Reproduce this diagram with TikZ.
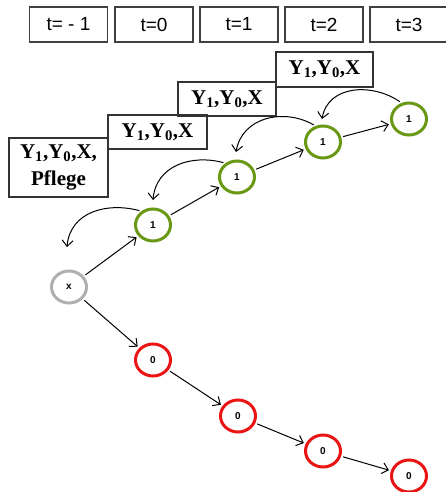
\documentclass[tikz,border=0pt]{standalone}
\usepackage{fontspec}
\setmainfont{Liberation Serif}
\setsansfont{Liberation Sans}
\usepackage{tikz}
\usetikzlibrary{shapes}
\usetikzlibrary{arrows.meta}
\definecolor{okgreen}{RGB}{104,152,20}
\definecolor{nored}{RGB}{235,20,20}
\definecolor{startgray}{RGB}{175,175,175}
\tikzset{
  main node/.style={ellipse,draw,line width=3pt,minimum width=35pt,minimum height=32pt,inner sep=0pt,font=\sffamily\bfseries\fontsize{10}{10}\selectfont},
  time node/.style={rectangle,draw=black!75,line width=1.2pt,minimum width=78pt,minimum height=35pt,inner sep=0pt,font=\sffamily\fontsize{19}{19}\selectfont},
  var node/.style={rectangle,draw=black!80,line width=1.2pt,inner sep=0pt,align=center,font=\bfseries\fontsize{21}{27}\selectfont},
  yes node/.style={main node,draw=okgreen},
  no node/.style={main node,draw=nored}
}
\newcommand{\vars}{Y\textsubscript{1},Y\textsubscript{0},X}

\begin{document}
\begin{tikzpicture}[x=1pt,y=-1pt,->,>={Straight Barb[length=6pt,width=11pt]},line width=1pt,shorten >=2pt,shorten <=2pt]
    \useasboundingbox (0,0) rectangle (446,492);
    % time line
    \node[time node] (tm) at (68.5,24.5)  {t= - 1};
    \node[time node] (t0) at (154,24.5)   {t=0};
    \node[time node] (t1) at (239,24.5)   {t=1};
    \node[time node] (t2) at (324,24.5)   {t=2};
    \node[time node] (t3) at (409,24.5)   {t=3};
    % variable boxes
    \node[var node,minimum width=99pt,minimum height=59pt] (v0) at (58.5,167.5) {\vars,\\Pflege};
    \node[var node,minimum width=99pt,minimum height=34pt] (v1) at (157.5,132) {\vars};
    \node[var node,minimum width=98pt,minimum height=34pt] (v2) at (227,99)   {\vars};
    \node[var node,minimum width=97pt,minimum height=35pt] (v3) at (324.5,69.5) {\vars};
    % states
    \node[main node,draw=startgray] (x) at (69,287) {x};
    \node[yes node] (a1) at (153,225) {1};
    \node[yes node] (a2) at (237,177) {1};
    \node[yes node] (a3) at (323,142) {1};
    \node[yes node] (a4) at (409,119) {1};
    \node[no node] (b1) at (153,360) {0};
    \node[no node] (b2) at (238,416) {0};
    \node[no node] (b3) at (323,451) {0};
    \node[no node] (b4) at (409,476) {0};
    % ends of the back arrows
    \coordinate (e1) at (67,247);
    \coordinate (e2) at (153,200);
    \coordinate (e3) at (236,152);
    \coordinate (e4) at (322,119);
    % transitions
    \draw (x) -- (a1);
    \draw (a1) -- (a2);
    \draw (a2) -- (a3);
    \draw (a3) -- (a4);
    \draw (x) -- (b1);
    \draw (b1) -- (b2);
    \draw (b2) -- (b3);
    \draw (b3) -- (b4);
    % back arrows
    \draw[shorten >=0pt] (a1.130) to[out=165,in=85,looseness=1.1] (e1);
    \draw[shorten >=0pt] (a2.130) to[out=165,in=85,looseness=1.1] (e2);
    \draw[shorten >=0pt] (a3.115) to[out=150,in=80,looseness=1.1] (e3);
    \draw[shorten >=0pt] (a4.115) to[out=145,in=80,looseness=1.1] (e4);
\end{tikzpicture}
\end{document}
